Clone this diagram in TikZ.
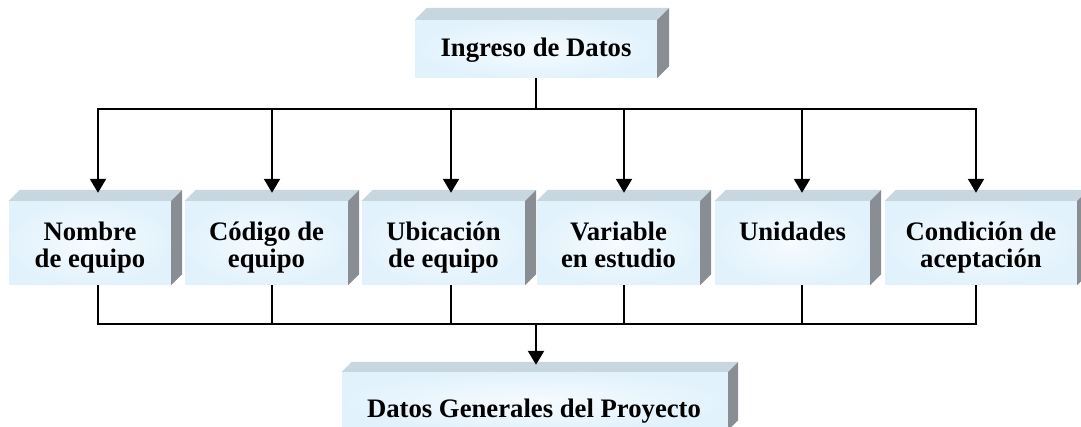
\documentclass[tikz,border=0pt]{standalone}
\usepackage{fontspec}
\setmainfont{Liberation Serif}
\usetikzlibrary{arrows.meta}
\definecolor{frontout}{RGB}{226,242,252}
\definecolor{frontin}{RGB}{246,251,254}
\definecolor{topcol}{RGB}{200,215,223}
\definecolor{sidecol}{RGB}{136,142,148}
\newcommand\boxfaces[2]{%
  \fill[topcol] (#1.north west) -- ++(#2,-#2) -- ([shift={(#2,-#2)}]#1.north east) -- (#1.north east) -- cycle;
  \fill[sidecol] (#1.north east) -- ++(#2,-#2) -- ([shift={(#2,-#2)}]#1.south east) -- (#1.south east) -- cycle;}
\begin{document}
\begin{tikzpicture}[x=1pt,y=-1pt,
  front/.style={rectangle, inner sep=0pt, inner color=frontin, outer color=frontout},
  lbl/.style={inner sep=0pt, align=center, font=\bfseries\fontsize{26.7}{27.5}\selectfont},
  conn/.style={line width=2.2pt},
  arr/.style={line width=2.2pt, -{Triangle[width=16pt,length=14pt]}}]
\useasboundingbox (0,0) rectangle (1081,427);
% boxes
\node[front, minimum width=242pt, minimum height=58pt] (top) at (536,49) {};
\node[front, minimum width=162pt, minimum height=84pt] (b1) at (90,243) {};
\node[front, minimum width=163pt, minimum height=84pt] (b2) at (266.5,243) {};
\node[front, minimum width=163pt, minimum height=84pt] (b3) at (443.5,243) {};
\node[front, minimum width=163pt, minimum height=84pt] (b4) at (618.5,243) {};
\node[front, minimum width=155pt, minimum height=84pt] (b5) at (792.5,243) {};
\node[front, minimum width=192pt, minimum height=84pt] (b6) at (981,243) {};
\node[front, minimum width=386pt, minimum height=58pt] (bot) at (535,401) {};
\boxfaces{top}{12}
\boxfaces{b1}{11}
\boxfaces{b2}{11}
\boxfaces{b3}{11}
\boxfaces{b4}{11}
\boxfaces{b5}{11}
\boxfaces{b6}{11}
\boxfaces{bot}{10}
% labels
\node[lbl, anchor=base] (ttop) at (536,57) {Ingreso de Datos};
\node[lbl, anchor=north] (t1) at (90,220.8) {\strut Nombre\\de equipo};
\node[lbl, anchor=north] (t2) at (266.5,220.8) {\strut C\'odigo de\\equipo};
\node[lbl, anchor=north] (t3) at (443.5,220.8) {\strut Ubicaci\'on\\de equipo};
\node[lbl, anchor=north] (t4) at (618.5,220.8) {\strut Variable\\en estudio};
\node[lbl, anchor=north] (t5) at (792.5,220.8) {\strut Unidades};
\node[lbl, anchor=north] (t6) at (981,220.8) {\strut Condici\'on de\\aceptaci\'on};
\node[lbl, anchor=base] (tbot) at (534,417) {Datos Generales del Proyecto};
% bus coordinates
\coordinate (busT) at (536,109);
\coordinate (busB) at (536,324);
\coordinate (c1) at (98,109);
\coordinate (c2) at (272,109);
\coordinate (c3) at (451,109);
\coordinate (c4) at (624,109);
\coordinate (c5) at (802,109);
\coordinate (c6) at (976,109);
% top connectors
\draw[conn] (top.south -| busT) -- (busT);
\draw[conn, line cap=rect] (c1) -- (c6);
\foreach \i in {1,...,6}{
  \draw[arr, shorten >=8pt] (c\i) -- (c\i |- b\i.north);
  \draw[conn] (b\i.south -| c\i) -- (c\i |- busB);
}
% bottom connectors
\draw[conn, line cap=rect] (c1 |- busB) -- (c6 |- busB);
\draw[arr, shorten >=7pt] (busB) -- (busB |- bot.north);
\end{tikzpicture}
\end{document}
